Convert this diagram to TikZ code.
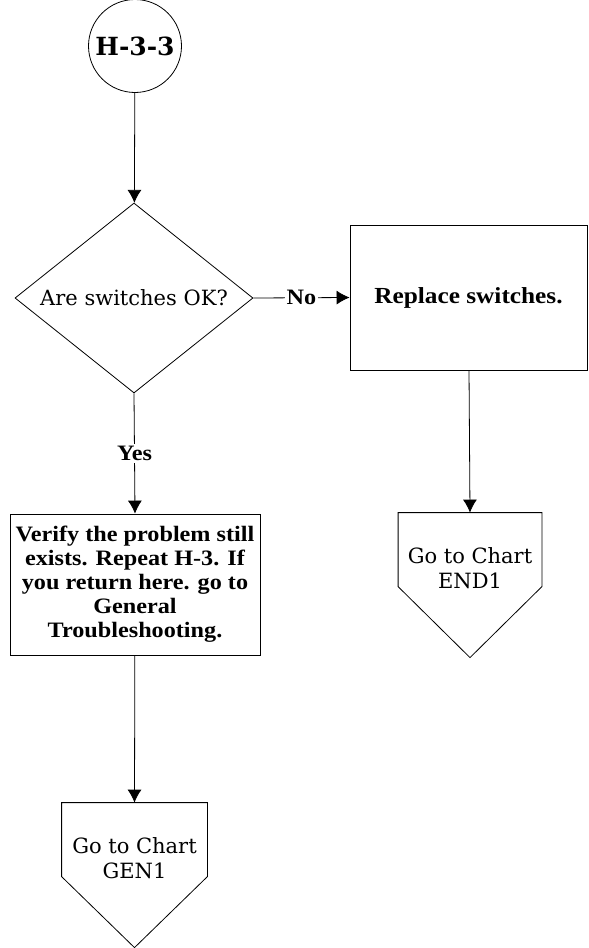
\documentclass[tikz,border=0pt]{standalone}
\usepackage{fontspec}
\setmainfont{Liberation Serif}
\newfontfamily\wideserif[FakeStretch=1.1]{Liberation Serif}
\newfontfamily\bookfont{DejaVu Serif}
\usetikzlibrary{arrows.meta,shapes.geometric}

\begin{document}
\begin{tikzpicture}[
  x=1pt, y=-1pt,
  >={Latex[length=13pt,width=14pt]},
  line width=0.8pt,
  startcircle/.style = {
    draw, circle, minimum size=93pt, inner sep=0pt,
    font=\bookfont\bfseries\fontsize{25}{28}\selectfont
  },
  decision/.style = {
    draw, diamond, aspect=1.25, inner sep=0pt,
    minimum width=238pt, minimum height=190pt,
    font=\bookfont\fontsize{21}{24}\selectfont
  },
  action/.style = {
    draw, rectangle, align=center, inner sep=0pt,
    font=\wideserif\bfseries\fontsize{22}{24}\selectfont
  },
  goto/.style = {
    rectangle, align=center, inner sep=0pt,
    minimum height=110pt,
    font=\bookfont\fontsize{21}{25}\selectfont
  },
  label/.style = {fill=white, inner sep=2pt,
    font=\wideserif\bfseries\fontsize{22}{24}\selectfont}
]

% ---- constants ----
\def\body{74pt}   % straight part of the off-page connector
\def\tip{145pt}   % depth down to its point

\useasboundingbox (0,0) rectangle (589,948);

% ---- nodes ----
\node[startcircle] (start) at (135,46) {H-3-3};

\node[decision] (check) at (134,298) {Are switches OK?};

\node[action, minimum width=237pt, minimum height=145pt,
  font=\wideserif\bfseries\fontsize{23}{24}\selectfont] (replace)
  at (468.5,297.5) {Replace switches.};

\node[action, minimum width=250pt, minimum height=141pt] (verify)
  at (135,584.5) {Verify the problem still\\
  exists. Repeat H-3. If\\
  you return here. go to\\
  General\\
  Troubleshooting.};

% off-page connectors
\node[goto, minimum width=143pt] (end) at (470,568) {Go to Chart\\ END1};
\node[goto, minimum width=145pt] (gen) at (134.5,858) {Go to Chart\\ GEN1};

\draw ([yshift=-\body]end.north west) -- (end.north west) -- (end.north east)
  -- ([yshift=-\body]end.north east) -- ([yshift=-\tip]end.north) -- cycle;
\draw ([yshift=-\body]gen.north west) -- (gen.north west) -- (gen.north east)
  -- ([yshift=-\body]gen.north east) -- ([yshift=-\tip]gen.north) -- cycle;

% ---- arrows ----
\draw[->] (start) -- (check);
\draw[->] (check.east) -- node[label] {No} (replace.west);
\draw[->] (check.south) -- node[label] {Yes} (verify.north);
\draw[->] (replace) -- (end.north);
\draw[->] (verify) -- (gen.north);

\end{tikzpicture}
\end{document}
